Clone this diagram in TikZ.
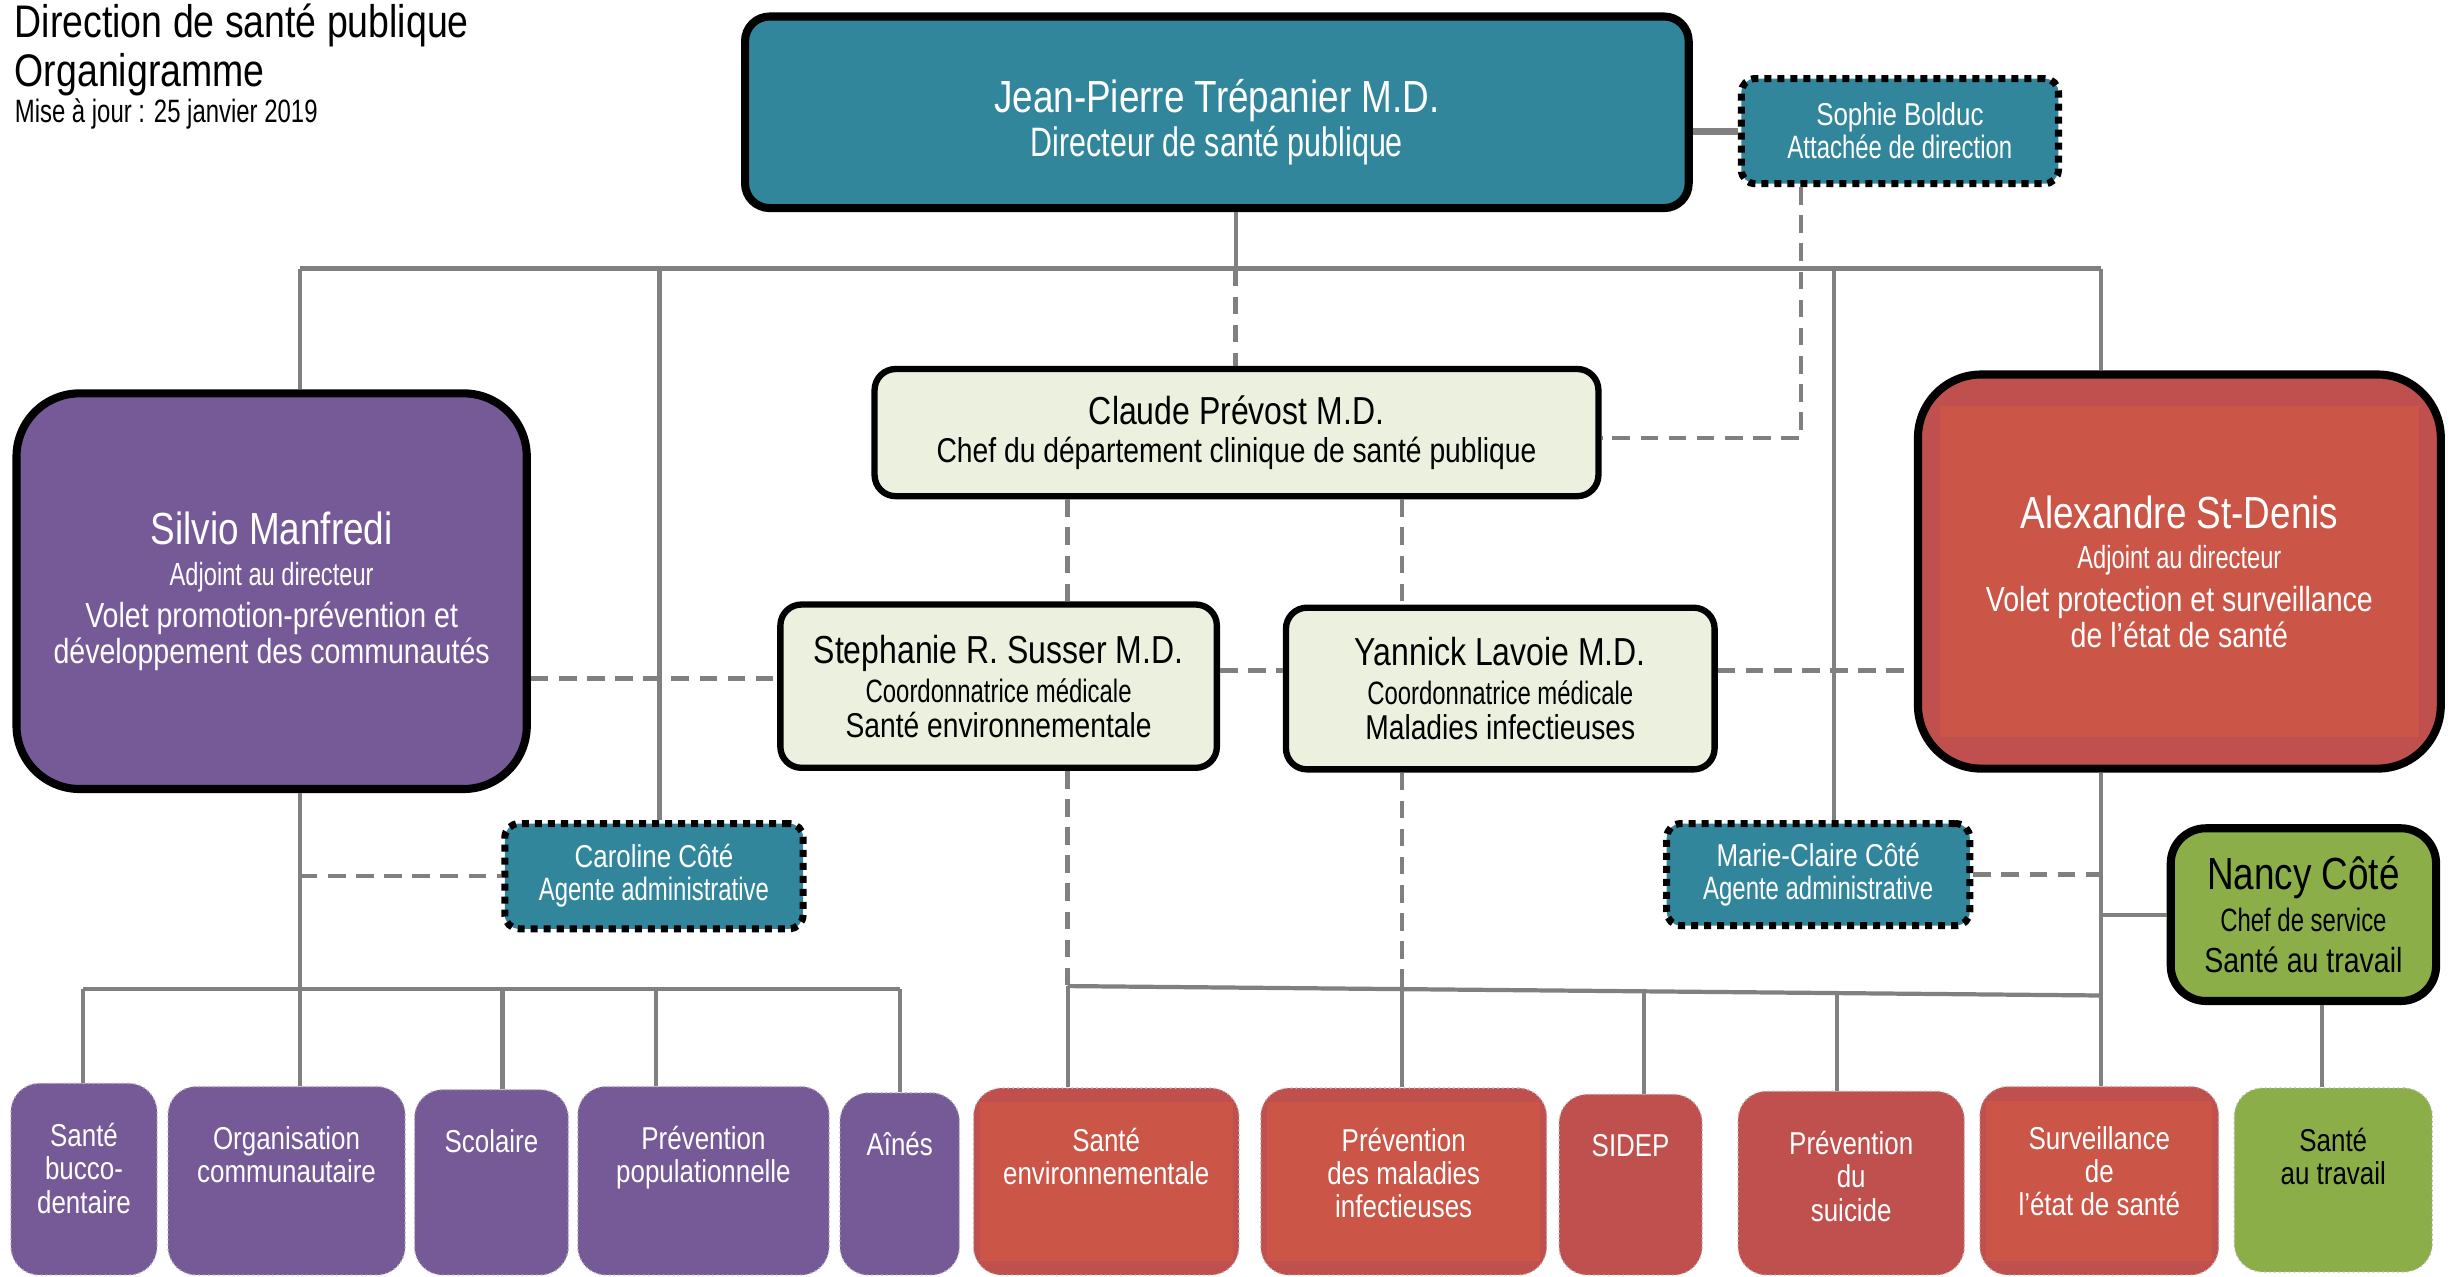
\documentclass[tikz,border=0pt]{standalone}
\usepackage{fontspec}
\setmainfont[FakeStretch=0.82]{Liberation Sans}
\newfontfamily\lightfont[FakeStretch=0.74]{Liberation Sans}
\usetikzlibrary{calc,positioning}
\definecolor{dsteal}{RGB}{50,134,156}
\definecolor{dspurple}{RGB}{118,90,152}
\definecolor{dsred}{RGB}{192,80,77}
\definecolor{dsredin}{RGB}{203,85,70}
\definecolor{dscream}{RGB}{235,241,222}
\definecolor{dsgreen}{RGB}{139,174,72}
\definecolor{dsgray}{RGB}{128,128,128}
\newcommand{\ux}{0.015702cm}
\newcommand{\bigname}[1]{{\fontsize{12.8}{14}\selectfont #1}}
\newcommand{\midname}[1]{{\fontsize{11.1}{13}\selectfont #1}}
\newcommand{\smallname}[1]{{\fontsize{9}{11}\selectfont #1}}
\newcommand{\lite}[2][9.2]{{\lightfont\fontsize{#1}{11}\selectfont #2}}

\begin{document}
\begin{tikzpicture}[x=0.015702cm, y=-0.015702cm,
    ln/.style={draw=dsgray, line width=1.2pt},
    dashln/.style={draw=dsgray, line width=1.3pt, dash pattern=on 5pt off 3pt},
    chief/.style={draw=black, line width=2.3pt, rounded corners=18pt, text=white, align=center, inner sep=0pt, font={\fontsize{9.9}{10.3}\selectfont}},
    medbox/.style={draw=black, line width=1.8pt, rounded corners=6pt, fill=dscream, align=center, inner sep=0pt},
    adminbox/.style={draw=black, line width=2pt, dash pattern=on 2pt off 1.7pt, rounded corners=4pt, fill=dsteal, text=white, align=center, inner sep=0pt, font={\fontsize{9}{9.4}\selectfont}},
    unitbox/.style={draw=black!30, densely dotted, line width=0.4pt, rounded corners=8pt, inner sep=0pt},
    unittxt/.style={text=white, align=center, inner sep=0pt, font={\fontsize{9}{9.5}\selectfont}},
    redshade/.style={path picture={\fill[dsredin, sharp corners] ($(path picture bounding box.north west)+(#1)$) rectangle ($(path picture bounding box.south east)-(#1)$);}}]
    \path[fill=white, use as bounding box] (0,0) rectangle (1568,813);

    \node[anchor=base west, inner sep=0pt, font={\fontsize{13}{15}\selectfont}] (ttl) at (9,24) {Direction de santé publique};
    \node[anchor=base west, inner sep=0pt, font={\fontsize{13}{15}\selectfont}] (ttl2) at (9,55) {Organigramme};
    \node[anchor=base west, inner sep=0pt, font={\lightfont\fontsize{9.2}{11}\selectfont}] (upd) at (9,78) {Mise à jour : 25 janvier 2019};

    \node[chief, fill=dsteal, rounded corners=7pt, minimum width=601*\ux, minimum height=122*\ux, font={\fontsize{10}{12.5}\selectfont}] (jp) at (775,71.5) {\rule{0pt}{15pt}\bigname{Jean-Pierre Trépanier M.D.}\\\lite[11.7]{Directeur de santé publique}};
    \node[adminbox, minimum width=202*\ux, minimum height=67*\ux] (sophie) at (1210,83.5) {\smallname{Sophie Bolduc}\\\lite{Attachée de direction}};
    \node[medbox, minimum width=461*\ux, minimum height=81*\ux, font={\fontsize{9.8}{10.7}\selectfont}] (claude) at (787.5,275.5) {\midname{Claude Prévost M.D.}\\Chef du département clinique de santé publique};
    \node[medbox, minimum width=278*\ux, minimum height=104*\ux, font={\fontsize{9.8}{9.8}\selectfont}] (steph) at (636,437) {\midname{Stephanie R. Susser M.D.}\\[1.4pt]\lite{Coordonnatrice médicale}\\Santé environnementale};
    \node[medbox, minimum width=273*\ux, minimum height=103*\ux, font={\fontsize{9.8}{9.8}\selectfont}] (yann) at (955.5,438.5) {\midname{Yannick Lavoie M.D.}\\[1.4pt]\lite{Coordonnatrice médicale}\\Maladies infectieuses};
    \node[chief, fill=dspurple, minimum width=325*\ux, minimum height=252*\ux] (silvio) at (173,376.5) {\bigname{Silvio Manfredi}\\[1.3pt]\lite[9.1]{Adjoint au directeur}\\[1.7pt]Volet promotion-prévention et\\développement des communautés};
    \node[chief, fill=dsred, redshade={14,20}, minimum width=333*\ux, minimum height=251*\ux] (alex) at (1388,364) {\bigname{Alexandre St-Denis}\\[1.3pt]\lite[9.1]{Adjoint au directeur}\\[1.7pt]Volet protection et surveillance\\de l’état de santé};
    \node[adminbox, minimum width=190*\ux, minimum height=67*\ux] (caroline) at (416.5,558) {\smallname{Caroline Côté}\\\lite{Agente administrative}};
    \node[adminbox, minimum width=193*\ux, minimum height=65*\ux] (marie) at (1158,557) {\smallname{Marie-Claire Côté}\\\lite{Agente administrative}};
    \node[chief, fill=dsgreen, text=black, rounded corners=10pt, minimum width=169*\ux, minimum height=110*\ux, font={\fontsize{9.9}{11.6}\selectfont}] (nancy) at (1467,582.5) {\bigname{Nancy Côté}\\[0.4pt]\lite{Chef de service}\\Santé au travail};

    \node[unitbox, fill=dspurple, minimum width=93*\ux, minimum height=122*\ux] (sbd) at (53.5,751) {};
    \node[unitbox, fill=dspurple, minimum width=151*\ux, minimum height=120*\ux] (org) at (182.5,752) {};
    \node[unitbox, fill=dspurple, minimum width=98*\ux, minimum height=118*\ux] (scol) at (313,753) {};
    \node[unitbox, fill=dspurple, minimum width=160*\ux, minimum height=120*\ux] (ppop) at (448,752) {};
    \node[unitbox, fill=dspurple, minimum width=76*\ux, minimum height=116*\ux] (aines) at (573,754) {};
    \node[unitbox, fill=dsred, redshade={4,9}, minimum width=169*\ux, minimum height=119*\ux] (senv) at (704.5,752.5) {};
    \node[unitbox, fill=dsred, redshade={4,9}, minimum width=182*\ux, minimum height=119*\ux] (pmi) at (894,752.5) {};
    \node[unitbox, fill=dsred, minimum width=91*\ux, minimum height=115*\ux] (sidep) at (1038.5,754.5) {};
    \node[unitbox, fill=dsred, minimum width=144*\ux, minimum height=117*\ux] (psui) at (1179,753.5) {};
    \node[unitbox, fill=dsred, redshade={4,9}, minimum width=152*\ux, minimum height=120*\ux] (surv) at (1337,752) {};
    \node[unitbox, fill=dsgreen, minimum width=126*\ux, minimum height=117*\ux] (stra) at (1486,751.5) {};

    \node[unittxt, below=11.3pt of sbd.north] (sbdt) {Santé\\bucco-\\dentaire};
    \node[unittxt, below=11.3pt of org.north] (orgt) {Organisation\\communautaire};
    \node[unittxt, below=11.3pt of scol.north] (scolt) {Scolaire};
    \node[unittxt, below=11.3pt of ppop.north] (ppopt) {Prévention\\populationnelle};
    \node[unittxt, below=11.3pt of aines.north] (ainest) {Aînés};
    \node[unittxt, below=11.3pt of senv.north] (senvt) {Santé\\environnementale};
    \node[unittxt, below=11.3pt of pmi.north] (pmit) {Prévention\\des maladies\\infectieuses};
    \node[unittxt, below=11.3pt of sidep.north] (sidept) {SIDEP};
    \node[unittxt, below=11.3pt of psui.north] (psuit) {Prévention\\du\\suicide};
    \node[unittxt, below=11.3pt of surv.north] (survt) {Surveillance\\de\\l’état de santé};
    \node[unittxt, text=black, below=11.3pt of stra.north] (strat) {Santé\\au travail};

    \coordinate (jpdown) at (787,171);
    \coordinate (bl) at (191,171);
    \coordinate (bc) at (420,171);
    \coordinate (bm) at (1168,171);
    \coordinate (br) at (1338,171);
    \coordinate (sd) at (1147,279);
    \coordinate (pb1) at (53,630);
    \coordinate (pb2) at (191,630);
    \coordinate (pb3) at (320,630);
    \coordinate (pb4) at (418,630);
    \coordinate (pb5) at (573,630);
    \coordinate (rb1) at (680,628);
    \coordinate (rb2) at (893,630);
    \coordinate (rb3) at (1047,631.5);
    \coordinate (rb4) at (1170,632.5);
    \coordinate (rb5) at (1338,634);
    \coordinate (nt) at (1479,640);

    \draw[ln, line width=2pt] (jp.east |- sophie.west) -- (sophie.west);
    \draw[ln] (jp.south -| jpdown) -- (jpdown);
    \draw[ln] (bl) -- (br);
    \draw[ln] (bl) -- (bl |- silvio.north);
    \draw[ln] (bc) -- (bc |- caroline.north);
    \draw[ln] (bm) -- (bm |- marie.north);
    \draw[ln] (br) -- (br |- alex.north);
    \draw[dashln] (jpdown) -- (jpdown |- claude.north);
    \draw[dashln] (sophie.south -| sd) -- (sd) -- (claude.east |- sd);
    \draw[dashln] (claude.south -| rb1) -- (steph.north -| rb1);
    \draw[dashln] (claude.south -| rb2) -- (yann.north -| rb2);
    \draw[dashln] (silvio.east |- 0,432) -- (steph.west |- 0,432);
    \draw[dashln] (steph.east |- 0,427) -- (yann.west |- 0,427);
    \draw[dashln] (yann.east |- 0,427) -- (alex.west |- 0,427);
    \draw[dashln] (steph.south -| rb1) -- (rb1);
    \draw[dashln] (yann.south -| rb2) -- (rb2);

    \draw[ln] (silvio.south -| pb2) -- (pb2);
    \draw[dashln] (caroline.west -| pb2) -- (caroline.west);
    \draw[ln] (pb1) -- (pb5);
    \draw[ln] (pb1) -- (pb1 |- sbd.north);
    \draw[ln] (pb2) -- (pb2 |- org.north);
    \draw[ln] (pb3) -- (pb3 |- scol.north);
    \draw[ln] (pb4) -- (pb4 |- ppop.north);
    \draw[ln] (pb5) -- (pb5 |- aines.north);

    \draw[ln] (rb1) -- (rb5);
    \draw[ln] (rb1) -- (rb1 |- senv.north);
    \draw[ln] (rb2) -- (rb2 |- pmi.north);
    \draw[ln] (rb3) -- (rb3 |- sidep.north);
    \draw[ln] (rb4) -- (rb4 |- psui.north);
    \draw[ln] (alex.south -| rb5) -- (surv.north -| rb5);
    \draw[ln] (nancy.west -| rb5) -- (nancy.west);
    \draw[dashln] (marie.east) -- (marie.east -| rb5);
    \draw[ln] (nancy.south -| nt) -- (stra.north -| nt);
\end{tikzpicture}
\end{document}
